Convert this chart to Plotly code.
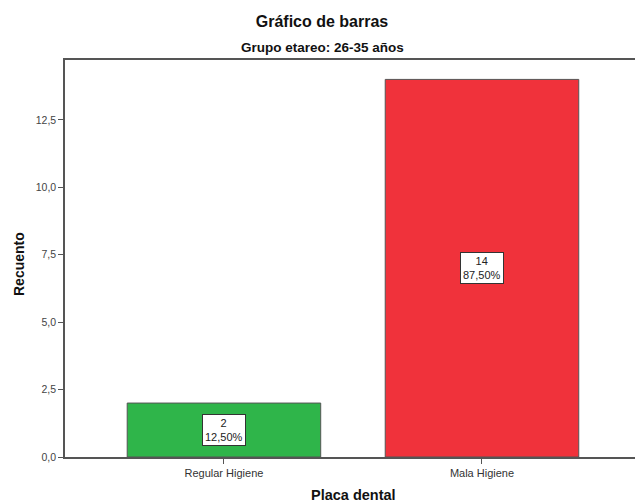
import plotly.graph_objects as go

# Datos del gráfico
categorias = ["Regular Higiene", "Mala Higiene"]
recuentos = [2, 14]
colores = ["#2fb54a", "#f0323b"]

total = sum(recuentos)
porcentajes = [f"{v / total * 100:.2f}".replace(".", ",") + "%" for v in recuentos]

FUENTE = "Liberation Sans, Arial"

fig = go.Figure()
fig.add_trace(go.Bar(
    x=categorias,
    y=recuentos,
    width=0.75,
    marker=dict(color=colores, line=dict(color="#555555", width=1)),
    hoverinfo="skip",
))

# Etiquetas con recuento y porcentaje en el centro de cada barra
for cat, val, pct in zip(categorias, recuentos, porcentajes):
    fig.add_annotation(
        x=cat, y=val / 2, text=f"{val}<br>{pct}",
        showarrow=False, bgcolor="white", bordercolor="#333333",
        borderwidth=1, borderpad=2,
        font=dict(family=FUENTE, size=11, color="#222222"),
    )

# Subtítulo y títulos de ejes (en píxeles del lienzo)
def px_x(x):
    return (x - 65) / 570

def px_y(y):
    return (457 - y) / 397

fig.add_annotation(
    text="<b>Grupo etareo: 26-35 años</b>",
    xref="paper", yref="paper", x=px_x(322), y=px_y(48),
    xanchor="center", yanchor="middle", showarrow=False,
    font=dict(family=FUENTE, size=13.5, color="#111111"),
)
fig.add_annotation(
    text="<b>Placa dental</b>",
    xref="paper", yref="paper", x=px_x(353), y=px_y(495),
    xanchor="center", yanchor="middle", showarrow=False,
    font=dict(family=FUENTE, size=14.5, color="#111111"),
)
fig.add_annotation(
    text="<b>Recuento</b>", textangle=-90,
    xref="paper", yref="paper", x=px_x(19), y=px_y(264),
    xanchor="center", yanchor="middle", showarrow=False,
    font=dict(family=FUENTE, size=14, color="#111111"),
)

fig.update_layout(
    width=635, height=504,
    margin=dict(l=65, r=0, t=60, b=47),
    paper_bgcolor="white", plot_bgcolor="white",
    separators=",.",
    showlegend=False,
    title=dict(
        text="<b>Gráfico de barras</b>",
        x=322 / 635, xanchor="center", xref="container",
        y=1 - 21 / 504, yanchor="middle", yref="container",
        font=dict(family=FUENTE, size=16, color="#111111"),
    ),
    font=dict(family=FUENTE, color="#333333"),
)

fig.update_xaxes(
    range=[-0.616, 1.593], automargin=False,
    showline=True, linecolor="#555555", linewidth=1.5, mirror=True,
    ticks="outside", ticklen=5, tickcolor="#555555",
    tickfont=dict(size=11, color="#333333"),
    showgrid=False, fixedrange=True,
)
fig.update_yaxes(
    range=[0, 14.72], automargin=False,
    tickvals=[0, 2.5, 5, 7.5, 10, 12.5], tickformat=".1f",
    showline=True, linecolor="#555555", linewidth=1.5,
    ticks="outside", ticklen=5, tickcolor="#555555",
    tickfont=dict(size=10.5, color="#444444"),
    showgrid=False, zeroline=False, fixedrange=True,
)

# Quitar el margen del <body> para que la figura ocupe la ventana entera
fig.write_html(
    "out.html",
    config={"displayModeBar": False},
    post_script="document.body.style.margin='0';document.body.style.overflow='hidden';",
)
